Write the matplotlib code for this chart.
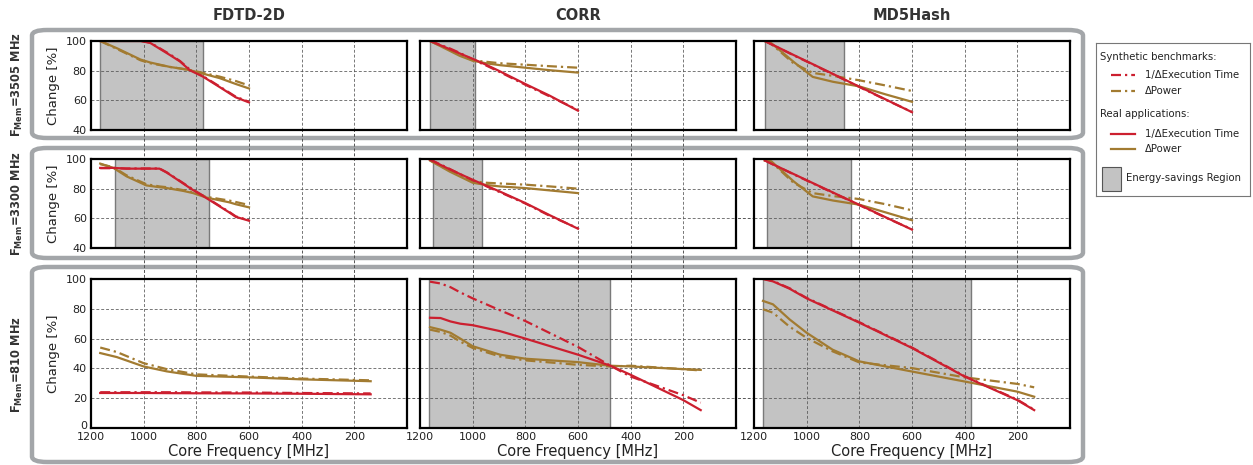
import numpy as np
import matplotlib.pyplot as plt
import matplotlib.transforms as mtransforms
from matplotlib.lines import Line2D
from matplotlib.patches import FancyBboxPatch, Rectangle

# ── Data ─────────────────────────────────────────────────────────────────────

apps = ["FDTD-2D", "CORR", "MD5Hash"]
mem_clocks = ["3505", "3300", "810"]
x_ticks = [1200, 1000, 800, 600, 400, 200]

# FDTD-2D
fdtd_3505_f = [1165, 1100, 1012, 975, 900, 862, 825, 775, 712, 650, 600]
fdtd_3505_time_syn = [100.3, 100.3, 100.2, 98.9, 91, 86.5, 80.8, 76.4, 69.4, 62.4, 59]
fdtd_3505_time_real = [100, 100, 100, 98.7, 90.5, 86.2, 80.3, 76, 69, 62, 58.6]
fdtd_3505_pow_syn = [100, 94.5, 87, 85, 82.5, 81.5, 80.5, 78.5, 76, 73, 70]
fdtd_3505_pow_real = [100, 95, 87.5, 85.5, 82.5, 81.5, 80.3, 78, 75, 71, 68]

fdtd_3300_f = [1165, 1115, 1065, 990, 940, 912, 850, 812, 762, 675, 650, 600]
fdtd_3300_time_syn = [93.8, 93.8, 93.6, 93.6, 93.6, 91, 83.8, 79.3, 74, 64.3, 61.3, 58.7]
fdtd_3300_time_real = [94, 94, 93.5, 93.5, 93.5, 90.8, 83.5, 79, 73.7, 64, 61, 58.4]
fdtd_3300_pow_syn = [96.5, 94.5, 89, 83, 81.5, 81, 79, 77.5, 74.5, 72, 71, 69]
fdtd_3300_pow_real = [96.9, 94, 88.3, 82.2, 81, 80.4, 78.5, 77, 74, 70.8, 69.5, 67.4]

fdtd_810_f = [1165, 1102, 1000, 912, 800, 600, 408, 138]
fdtd_810_time_syn = [24, 24, 24, 24, 23.9, 23.8, 23.5, 23.2]
fdtd_810_time_real = [23.5, 23.5, 23.5, 23.4, 23.3, 23.2, 23, 22.6]
fdtd_810_pow_syn = [54, 51, 43.5, 39.5, 36, 34.5, 33.2, 32]
fdtd_810_pow_real = [50.3, 47.6, 41.3, 38, 35, 34, 32.7, 31.4]

# CORR
corr_3505_f = [1162, 1087, 1049, 1000, 949, 896, 800, 706, 600]
corr_3505_time_syn = [100, 95, 92, 87.5, 83.5, 79, 70.5, 62.5, 53.5]
corr_3505_time_real = [100, 94.5, 91.6, 88, 84, 79.5, 71, 63, 53]
corr_3505_pow_syn = [100, 94, 90.5, 87, 86, 85, 84, 83, 82]
corr_3505_pow_real = [100, 93.4, 90, 86.7, 85, 83.7, 82, 80.3, 78.7]

corr_3300_f = [1162, 1087, 1000, 949, 896, 800, 706, 600]
corr_3300_time_syn = [99.7, 93.3, 85.6, 81.7, 77.6, 70, 61.6, 53.3]
corr_3300_time_real = [99.5, 93, 86, 82, 78, 70.3, 62, 53]
corr_3300_pow_syn = [99, 92, 85, 84, 83.5, 82.7, 81.5, 80]
corr_3300_pow_real = [99, 91.5, 84, 82.5, 81.5, 80.4, 78.8, 77]

corr_810_f = [1162, 1122, 1084, 1047, 1000, 896, 800, 600, 477, 400, 200, 134]
corr_810_time_syn = [98.2, 97, 94.5, 91, 87, 79, 71.8, 54.4, 41.8, 34.5, 22, 17]
corr_810_time_real = [74, 73.8, 71.5, 70, 69, 65, 60, 49.2, 41.8, 35.7, 18.7, 12]
corr_810_pow_syn = [66, 64.5, 62, 58, 53.7, 48, 45.4, 42.4, 41.3, 41.8, 39.5, 38.6]
corr_810_pow_real = [67.7, 66, 63.9, 60, 54.9, 49.2, 46.5, 44.2, 41.8, 41.3, 39.5, 39]

# MD5Hash
md5_3505_f = [1159, 1134, 1050, 977, 900, 800, 700, 600]
md5_3505_time_syn = [100, 97.7, 90.4, 84.2, 77.6, 69, 60.4, 52.2]
md5_3505_time_real = [100, 97.9, 90.6, 84.4, 77.8, 69.2, 60.6, 52]
md5_3505_pow_syn = [100, 98, 85, 78.5, 76.5, 73.5, 70, 66.3]
md5_3505_pow_real = [100, 98.5, 86, 75.8, 72.5, 69.4, 64, 59]

md5_3300_f = [1159, 1134, 1050, 977, 900, 800, 700, 600]
md5_3300_time_syn = [99.2, 96.8, 89.7, 83.6, 77.2, 68.9, 60.5, 52.6]
md5_3300_time_real = [99, 96.9, 89.9, 83.8, 77.4, 69.1, 60.7, 52.4]
md5_3300_pow_syn = [99, 98, 84, 77, 75, 73, 69.5, 65.4]
md5_3300_pow_real = [99, 98.4, 85, 74.8, 72, 69.2, 64, 58.7]

md5_810_f = [1166, 1128, 1065, 1000, 902, 800, 600, 400, 200, 136]
md5_810_time_syn = [100.3, 98.7, 93.8, 87.3, 79.3, 71, 54, 34.8, 19, 12.3]
md5_810_time_real = [100, 98.4, 93.5, 87, 79, 70.7, 53.7, 34.5, 18.7, 12]
md5_810_pow_syn = [79.7, 77.4, 68, 60.5, 51.5, 44, 40.2, 34, 29.6, 27.3]
md5_810_pow_real = [85.3, 83, 72.9, 63.9, 52.6, 44.7, 37.9, 31.2, 24.4, 21]

# energy-savings regions (start, end) in MHz, None = no region
region_3505 = [(1165, 775), (1162, 990), (1160, 860)]
region_3300 = [(1107, 752), (1150, 966), (1150, 830)]
region_810 = [None, (1166, 479), (1166, 377)]

# ── Styling ──────────────────────────────────────────────────────────────────

RED = "#cc1f2f"
GOLD = "#a27b31"
SHADE = "#c3c3c3"
BOX = "#a3a6a9"
GRID = "#555555"
TXT = "#222222"
DASHDOT = (0, (4.5, 1.8, 1, 1.8))
LW = 1.6

plt.rcParams["font.family"] = ["DejaVu Sans"]

W, H = 1253, 465
fig = plt.figure(figsize=(W / 100, H / 100), dpi=100)

col_left = [91, 420, 754]
col_w = 316
row_tb = [(41, 130), (159, 248), (279, 428)]

panels = [
    [(fdtd_3505_f, fdtd_3505_time_syn, fdtd_3505_time_real, fdtd_3505_pow_syn, fdtd_3505_pow_real),
     (corr_3505_f, corr_3505_time_syn, corr_3505_time_real, corr_3505_pow_syn, corr_3505_pow_real),
     (md5_3505_f, md5_3505_time_syn, md5_3505_time_real, md5_3505_pow_syn, md5_3505_pow_real)],
    [(fdtd_3300_f, fdtd_3300_time_syn, fdtd_3300_time_real, fdtd_3300_pow_syn, fdtd_3300_pow_real),
     (corr_3300_f, corr_3300_time_syn, corr_3300_time_real, corr_3300_pow_syn, corr_3300_pow_real),
     (md5_3300_f, md5_3300_time_syn, md5_3300_time_real, md5_3300_pow_syn, md5_3300_pow_real)],
    [(fdtd_810_f, fdtd_810_time_syn, fdtd_810_time_real, fdtd_810_pow_syn, fdtd_810_pow_real),
     (corr_810_f, corr_810_time_syn, corr_810_time_real, corr_810_pow_syn, corr_810_pow_real),
     (md5_810_f, md5_810_time_syn, md5_810_time_real, md5_810_pow_syn, md5_810_pow_real)],
]
regions = [region_3505, region_3300, region_810]

# rounded row boxes
box_px = [(30, 138), (148, 258), (267, 462)]
for top, bot in box_px:
    fig.add_artist(FancyBboxPatch(
        (32 / W, 1 - bot / H), (1083 - 32) / W, (bot - top) / H,
        boxstyle="round,pad=0,rounding_size=0.012",
        transform=fig.transFigure, facecolor="none", edgecolor=BOX,
        linewidth=3.2, zorder=0.2))

axes = [[None] * 3 for _ in range(3)]
for r in range(3):
    top, bot = row_tb[r]
    for c in range(3):
        ax = fig.add_axes([col_left[c] / W, 1 - bot / H, col_w / W, (bot - top) / H])
        ax.set_zorder(1)
        axes[r][c] = ax
        f, t_syn, t_real, p_syn, p_real = panels[r][c]

        reg = regions[r][c]
        if reg is not None:
            ax.axvspan(reg[1], reg[0], facecolor=SHADE, edgecolor="#7a7a7a", linewidth=1.0, zorder=0.5)

        ax.plot(f, p_syn, color=GOLD, lw=LW, ls=DASHDOT, zorder=3)
        ax.plot(f, t_syn, color=RED, lw=LW, ls=DASHDOT, zorder=3)
        ax.plot(f, p_real, color=GOLD, lw=LW, zorder=4)
        ax.plot(f, t_real, color=RED, lw=LW, zorder=4)

        ax.set_xlim(1200, 0)
        ax.set_xticks(x_ticks)
        if r < 2:
            ax.set_ylim(40, 100)
            ax.set_yticks([40, 60, 80, 100])
        else:
            ax.set_ylim(0, 100)
            ax.set_yticks([0, 20, 40, 60, 80, 100])
        ax.grid(True, color=GRID, linestyle=(0, (3, 2)), linewidth=0.7, alpha=0.8, zorder=1)
        ax.set_axisbelow(False)
        for sp in ax.spines.values():
            sp.set_linewidth(1.6)
            sp.set_color("black")
            sp.set_zorder(6)
        ax.tick_params(length=0, labelsize=8, labelcolor=TXT)
        ax.tick_params(axis="y", pad=3)
        ax.tick_params(axis="x", pad=3)
        if c > 0:
            ax.set_yticklabels([])
        else:
            ax.set_ylabel("Change [%]", fontsize=9.5, color=TXT)
            ax.yaxis.set_label_coords(-0.098, 0.5)
        if r < 2:
            ax.set_xticklabels([])
        else:
            ax.set_xlabel("Core Frequency [MHz]", fontsize=10.5, color=TXT)
            ax.xaxis.set_label_coords(0.5, -0.105)

# lift the "0" label of the bottom row a little so it clears the 1200 label
zero_lbl = axes[2][0].get_yticklabels()[0]
zero_lbl.set_transform(zero_lbl.get_transform() +
                       mtransforms.ScaledTranslation(0, 3 / 100, fig.dpi_scale_trans))

# grid lines continuing through the gaps between panels
for c in range(3):
    trans = mtransforms.blended_transform_factory(axes[2][c].transData, fig.transFigure)
    for xv in x_ticks[1:]:
        fig.add_artist(Line2D([xv, xv], [1 - row_tb[2][1] / H, 1 - row_tb[0][0] / H],
                              transform=trans, color=GRID, lw=0.7, ls=(0, (3, 2)), zorder=0.5))
for r in range(3):
    trans = mtransforms.blended_transform_factory(fig.transFigure, axes[r][0].transData)
    for yv in axes[r][0].get_yticks()[1:-1]:
        fig.add_artist(Line2D([col_left[0] / W, (col_left[2] + col_w) / W], [yv, yv],
                              transform=trans, color=GRID, lw=0.7, ls=(0, (3, 2)), zorder=0.5))

# column titles
for c, name in enumerate(apps):
    fig.text((col_left[c] + col_w / 2) / W, 1 - 15 / H, name, ha="center", va="center",
             fontsize=10.5, fontweight="bold", color="#333333")

# row labels
for r, m in enumerate(mem_clocks):
    top, bot = box_px[r]
    fig.text(17 / W, 1 - (top + bot) / 2 / H,
             r"$\mathbf{F_{Mem}}$=" + m + " MHz", rotation=90, ha="center", va="center",
             fontsize=8.3, fontweight="bold", color="#333333")

# legend drawn by hand in its own axes
lax = fig.add_axes([1096 / W, 1 - 196 / H, 154 / W, 153 / H])
lax.set_xlim(1096, 1250)
lax.set_ylim(196, 43)
lax.set_xticks([])
lax.set_yticks([])
for sp in lax.spines.values():
    sp.set_color("#777777")
    sp.set_linewidth(0.8)
lfs = 7.3
lax.text(1100, 57, "Synthetic benchmarks:", fontsize=lfs, va="center", color=TXT)
lax.plot([1111, 1135], [75, 75], color=RED, lw=LW, ls=DASHDOT)
lax.text(1145, 75, "1/ΔExecution Time", fontsize=lfs, va="center", color=TXT)
lax.plot([1111, 1135], [91, 91], color=GOLD, lw=LW, ls=DASHDOT)
lax.text(1145, 91, "ΔPower", fontsize=lfs, va="center", color=TXT)
lax.text(1100, 114, "Real applications:", fontsize=lfs, va="center", color=TXT)
lax.plot([1111, 1135], [134, 134], color=RED, lw=LW)
lax.text(1145, 134, "1/ΔExecution Time", fontsize=lfs, va="center", color=TXT)
lax.plot([1111, 1135], [149, 149], color=GOLD, lw=LW)
lax.text(1145, 149, "ΔPower", fontsize=lfs, va="center", color=TXT)
lax.add_patch(Rectangle((1102, 167), 19, 24, facecolor=SHADE, edgecolor="#555555", lw=0.8))
lax.text(1126, 178, "Energy-savings Region", fontsize=lfs, va="center", color=TXT)

plt.savefig("out.png", dpi=100)
